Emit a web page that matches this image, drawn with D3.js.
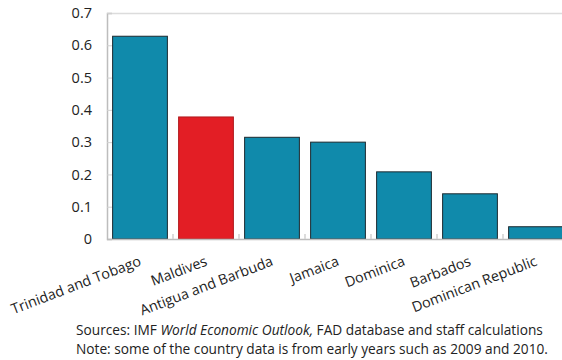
<!DOCTYPE html>
<html>
<head>
<meta charset="utf-8">
<script src="https://cdn.jsdelivr.net/npm/d3@7"></script>
<style>
  body { margin: 0; background: #fff; }
  svg { display: block; font-family: "Open Sans", "Noto Sans", sans-serif; }
</style>
</head>
<body>
<svg id="chart" width="562" height="360"></svg>
<script>
const countries = ['Trinidad and Tobago', 'Maldives', 'Antigua and Barbuda', 'Jamaica', 'Dominica', 'Barbados', 'Dominican Republic']
const values = [0.628, 0.378, 0.315, 0.300, 0.208, 0.140, 0.038]
const highlighted = ['Maldives']
const yTicks = [0, 0.1, 0.2, 0.3, 0.4, 0.5, 0.6, 0.7]
const notes = [
    [ 'Sources: IMF ', ['World Economic Outlook,', true], ' FAD database and staff calculations' ],
    [ 'Note: some of the country data is from early years such as 2009 and 2010.' ]
]

const svg = d3.select('#chart')
const plotLeft = 107, plotRight = 569, plotTop = 13, plotBottom = 239

const x = d3.scaleBand().domain(countries).range([plotLeft, plotRight]).paddingInner(0.17).paddingOuter(0.085)
const y = d3.scaleLinear().domain([0, 0.7]).range([plotBottom, plotTop])

// frame top line
svg.append('line')
    .attr('x1', plotLeft).attr('x2', 562).attr('y1', plotTop + 0.5).attr('y2', plotTop + 0.5)
    .attr('stroke', '#dcdcdc').attr('stroke-width', 1.5)

// bars
svg.append('g').selectAll('rect')
    .data(countries)
    .join('rect')
    .attr('x', d => x(d))
    .attr('width', x.bandwidth())
    .attr('y', (d, i) => y(values[i]))
    .attr('height', (d, i) => y(0) - y(values[i]))
    .attr('fill', d => highlighted.includes(d) ? '#e31e25' : '#108aab')
    .attr('stroke', d => highlighted.includes(d) ? '#b01a1e' : '#1c2a30')
    .attr('stroke-width', 1)

// y axis
const yAxis = svg.append('g')
    .attr('transform', `translate(${plotLeft},0)`)
    .call(d3.axisLeft(y).tickValues(yTicks).tickSize(-5).tickPadding(15).tickFormat(d => d === 0 ? '0' : d3.format('.1f')(d)))
yAxis.select('.domain').attr('stroke', '#bdbdbd').attr('stroke-width', 1.5)
yAxis.selectAll('.tick line').attr('stroke', '#d0d0d0')
yAxis.selectAll('.tick text').attr('font-size', 14.5).attr('fill', '#222').attr('font-family', '"Open Sans", sans-serif')

// x axis baseline and separator ticks
svg.append('line')
    .attr('x1', plotLeft).attr('x2', 562).attr('y1', plotBottom + 0.5).attr('y2', plotBottom + 0.5)
    .attr('stroke', '#bdbdbd').attr('stroke-width', 1.5)
svg.append('g').selectAll('line')
    .data(countries.slice(1))
    .join('line')
    .attr('x1', d => x(d) - x.step() * x.paddingInner() / 2)
    .attr('x2', d => x(d) - x.step() * x.paddingInner() / 2)
    .attr('y1', plotBottom).attr('y2', plotBottom - 5)
    .attr('stroke', '#d0d0d0').attr('stroke-width', 1.5)

// category labels
svg.append('g').selectAll('text')
    .data(countries)
    .join('text')
    .attr('transform', d => `translate(${x(d) + x.bandwidth() / 2 + 2},${plotBottom + 26}) rotate(-21)`)
    .attr('text-anchor', 'end')
    .attr('font-size', 14.3)
    .attr('fill', '#222')
    .text(d => d)

// footnotes
notes.forEach((line, i) => {
    const t = svg.append('text')
        .attr('x', 76).attr('y', 335 + i * 19)
        .attr('font-size', 13.7).attr('fill', '#222')
    line.forEach(part => {
        if (Array.isArray(part)) t.append('tspan').attr('font-style', 'italic').text(part[0])
        else t.append('tspan').text(part)
    })
})
</script>
</body>
</html>
